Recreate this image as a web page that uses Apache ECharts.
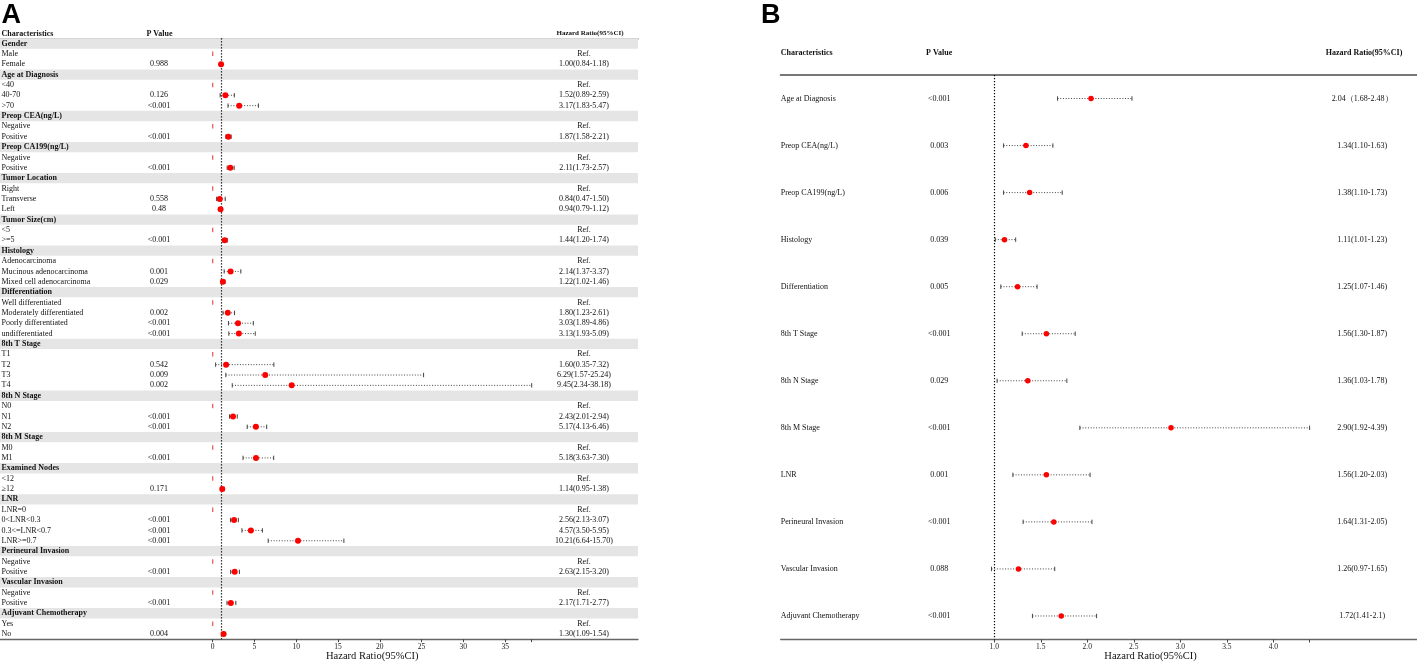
<!DOCTYPE html>
<html><head><meta charset="utf-8">
<script src="https://cdn.jsdelivr.net/npm/echarts@6/dist/echarts.min.js"></script>
<style>html,body{margin:0;padding:0;background:#fff}#c{width:1417px;height:662px}</style>
</head><body><div id="c"></div>
<script>
// ---------- Panel A data (univariate) ----------
const groupNamesA = ['Gender','Age at Diagnosis','Preop CEA(ng/L)','Preop CA199(ng/L)','Tumor Location','Tumor Size(cm)','Histology','Differentiation','8th T Stage','8th N Stage','8th M Stage','Examined Nodes','LNR','Perineural Invasion','Vascular Invasion','Adjuvant Chemotherapy'];
const levelNamesA = [['Male','Female'],['<40','40-70','>70'],['Negative','Positive'],['Negative','Positive'],['Right','Transverse','Left'],['<5','>=5'],['Adenocarcinoma','Mucinous adenocarcinoma','Mixed cell adenocarcinoma'],['Well differentiated','Moderately differentiated','Poorly differentiated','undifferentiated'],['T1','T2','T3','T4'],['N0','N1','N2'],['M0','M1'],['<12','≥12'],['LNR=0','0<LNR<0.3','0.3<=LNR<0.7','LNR>=0.7'],['Negative','Positive'],['Negative','Positive'],['Yes','No']];
const pValuesA = [['','0.988'],['','0.126','<0.001'],['','<0.001'],['','<0.001'],['','0.558','0.48'],['','<0.001'],['','0.001','0.029'],['','0.002','<0.001','<0.001'],['','0.542','0.009','0.002'],['','<0.001','<0.001'],['','<0.001'],['','0.171'],['','<0.001','<0.001','<0.001'],['','<0.001'],['','<0.001'],['','0.004']];
const hrA = [[null,1.00],[null,1.52,3.17],[null,1.87],[null,2.11],[null,0.84,0.94],[null,1.44],[null,2.14,1.22],[null,1.80,3.03,3.13],[null,1.60,6.29,9.45],[null,2.43,5.17],[null,5.18],[null,1.14],[null,2.56,4.57,10.21],[null,2.63],[null,2.17],[null,1.30]];
const ciLowA = [[null,0.84],[null,0.89,1.83],[null,1.58],[null,1.73],[null,0.47,0.79],[null,1.20],[null,1.37,1.02],[null,1.23,1.89,1.93],[null,0.35,1.57,2.34],[null,2.01,4.13],[null,3.63],[null,0.95],[null,2.13,3.50,6.64],[null,2.15],[null,1.71],[null,1.09]];
const ciHighA = [[null,1.18],[null,2.59,5.47],[null,2.21],[null,2.57],[null,1.50,1.12],[null,1.74],[null,3.37,1.46],[null,2.61,4.86,5.09],[null,7.32,25.24,38.18],[null,2.94,6.46],[null,7.30],[null,1.38],[null,3.07,5.95,15.70],[null,3.20],[null,2.77],[null,1.54]];
const tickLabelsA = [0,5,10,15,20,25,30,35];

// ---------- Panel B data (multivariate) ----------
const namesB = ['Age at Diagnosis','Preop CEA(ng/L)','Preop CA199(ng/L)','Histology','Differentiation','8th T Stage','8th N Stage','8th M Stage','LNR','Perineural Invasion','Vascular Invasion','Adjuvant Chemotherapy'];
const pValuesB = ['<0.001','0.003','0.006','0.039','0.005','<0.001','0.029','<0.001','0.001','<0.001','0.088','<0.001'];
const hrB = [2.04,1.34,1.38,1.11,1.25,1.56,1.36,2.90,1.56,1.64,1.26,1.72];
const ciLowB = [1.68,1.10,1.10,1.01,1.07,1.30,1.03,1.92,1.20,1.31,0.97,1.41];
const ciHighB = [2.48,1.63,1.73,1.23,1.46,1.87,1.78,4.39,2.03,2.05,1.65,2.10];
const hrTextB = ['2.04（1.68-2.48）','1.34(1.10-1.63)','1.38(1.10-1.73)','1.11(1.01-1.23)','1.25(1.07-1.46)','1.56(1.30-1.87)','1.36(1.03-1.78)','2.90(1.92-4.39)','1.56(1.20-2.03)','1.64(1.31-2.05)','1.26(0.97-1.65)','1.72(1.41-2.1)'];
const tickLabelsB = [1.0,1.5,2.0,2.5,3.0,3.5,4.0];

// ---------- build rows ----------
const fmt = v => v.toFixed(2);
const rowsA = [];
groupNamesA.forEach((g, gi) => {
  rowsA.push({label: g, header: true});
  levelNamesA[gi].forEach((lv, li) => {
    const hr = hrA[gi][li];
    rowsA.push({label: lv, header: false, p: pValuesA[gi][li], hr: hr, lo: ciLowA[gi][li], hi: ciHighA[gi][li],
      ref: hr === null, hrText: hr === null ? 'Ref.' : fmt(hr) + '(' + fmt(ciLowA[gi][li]) + '-' + fmt(ciHighA[gi][li]) + ')'});
  });
});
const rowsB = namesB.map((n, i) => ({label: n, header: false, p: pValuesB[i], hr: hrB[i], lo: ciLowB[i], hi: ciHighB[i], ref: false, hrText: hrTextB[i]}));

const maxA = Math.max(...rowsA.filter(r => !r.ref && !r.header).map(r => r.hi));
const minB = Math.min(...ciLowB), maxB = Math.max(...ciHighB);

// ---------- layout ----------
const SERIF = '"Liberation Serif","Times New Roman",serif';
const TXT = '#111';
const LA = {tLeft: 0, tWidth: 638, top: 38.3, height: 600.9, fLeft: 212.7, fWidth: 319, cols: {label: 1.5, p: 159, hr: 584}};
const LB = {tLeft: 780.7, tWidth: 636.3, top: 75, height: 564.5, fLeft: 991.5, fWidth: 318.1, cols: {label: 0, p: 158.5, hr: 581.5}};

function tableRender(rows, cols) {
  return function (params, api) {
    const i = api.value(1);
    const r = rows[i];
    const y = api.coord([0, i])[1];
    const ch = [];
    ch.push({type: 'text', x: api.coord([cols.label, i])[0], y: y,
      style: {text: r.label, fill: TXT, font: (r.header ? 'bold ' : '') + '8px ' + SERIF, align: 'left', verticalAlign: 'middle'}});
    if (r.p) ch.push({type: 'text', x: api.coord([cols.p, i])[0], y: y,
      style: {text: r.p, fill: TXT, font: '8px ' + SERIF, align: 'center', verticalAlign: 'middle'}});
    if (r.hrText) ch.push({type: 'text', x: api.coord([cols.hr, i])[0], y: y,
      style: {text: r.hrText, fill: TXT, font: '8px ' + SERIF, align: 'center', verticalAlign: 'middle'}});
    return {type: 'group', children: ch};
  };
}
function ciRender(cap) {
  return function (params, api) {
    const i = api.value(1);
    const a = api.coord([api.value(0), i]);
    const b = api.coord([api.value(2), i]);
    const st = {stroke: '#444', lineWidth: 1, lineDash: [1, 1.7]};
    const cs = {stroke: '#444', lineWidth: 1};
    return {type: 'group', children: [
      {type: 'line', shape: {x1: a[0], y1: a[1], x2: b[0], y2: b[1]}, style: st},
      {type: 'line', shape: {x1: a[0], y1: a[1] - cap, x2: a[0], y2: a[1] + cap}, style: cs},
      {type: 'line', shape: {x1: b[0], y1: b[1] - cap, x2: b[0], y2: b[1] + cap}, style: cs}
    ]};
  };
}

const catsA = rowsA.map((r, i) => 'a' + i);
const catsB = rowsB.map((r, i) => 'b' + i);

function hiddenAxis(grid, pos, max, lineW, lineC) {
  return {type: 'value', gridIndex: grid, position: pos, min: 0, max: max,
    axisLine: {show: lineW > 0, onZero: false, lineStyle: {color: lineC, width: lineW}},
    axisTick: {show: false}, axisLabel: {show: false}, splitLine: {show: false}};
}
function forestAxis(grid, min, max, labels, digits) {
  return {type: 'value', gridIndex: grid, position: 'bottom', min: min, max: max,
    axisLine: {show: false, onZero: false},
    axisTick: {show: true, length: 3, lineStyle: {color: '#444', width: 1}, customValues: labels.concat([max])},
    axisLabel: {show: true, customValues: labels, margin: 4, fontSize: 7.5, fontFamily: SERIF, color: '#222',
      formatter: v => digits ? Number(v).toFixed(digits) : String(v)},
    splitLine: {show: false},
    name: 'Hazard Ratio(95%CI)', nameLocation: 'middle', nameGap: 11.5, nameMoveOverlap: false,
    nameTextStyle: {fontSize: 10.5, fontFamily: SERIF, color: '#111', verticalAlign: 'top'}};
}

const refLine = {silent: true, symbol: ['none', 'none'], label: {show: false},
  lineStyle: {color: '#000', type: [1.2, 1.8], width: 1.2}, data: [{xAxis: 1}]};

function gridBox(left, top, width, height) {
  return {left: left, top: top, width: width, height: height, containLabel: false, outerBoundsMode: 'none'};
}

const option = {
  animation: false,
  backgroundColor: '#fff',
  grid: [
    gridBox(LA.tLeft, LA.top, LA.tWidth, LA.height),
    gridBox(LA.fLeft, LA.top, LA.fWidth, LA.height),
    gridBox(LB.tLeft, LB.top, LB.tWidth, LB.height),
    gridBox(LB.fLeft, LB.top, LB.fWidth, LB.height)
  ],
  xAxis: [
    hiddenAxis(0, 'top', LA.tWidth, 1.5, '#888'),
    hiddenAxis(0, 'bottom', LA.tWidth, 1.3, '#666'),
    forestAxis(1, 0, maxA, tickLabelsA, 0),
    hiddenAxis(2, 'top', LB.tWidth, 2, '#777'),
    hiddenAxis(2, 'bottom', LB.tWidth, 1.3, '#666'),
    forestAxis(3, minB, maxB, tickLabelsB, 1)
  ],
  yAxis: [
    {type: 'category', gridIndex: 0, data: catsA, inverse: true, show: false},
    {type: 'category', gridIndex: 1, data: catsA, inverse: true, show: false},
    {type: 'category', gridIndex: 2, data: catsB, inverse: true, show: false},
    {type: 'category', gridIndex: 3, data: catsB, inverse: true, show: false}
  ],
  graphic: [
    {type: 'text', x: 1.5, y: 16, style: {text: 'A', font: 'bold 27px "Liberation Sans",Arial,sans-serif', fill: '#000', align: 'left', verticalAlign: 'middle'}},
    {type: 'text', x: 761, y: 16, style: {text: 'B', font: 'bold 27px "Liberation Sans",Arial,sans-serif', fill: '#000', align: 'left', verticalAlign: 'middle'}},
    {type: 'text', x: 1.5, y: 33.5, style: {text: 'Characteristics', font: 'bold 8px ' + SERIF, fill: TXT, align: 'left', verticalAlign: 'middle'}},
    {type: 'text', x: 159.5, y: 33.5, style: {text: 'P Value', font: 'bold 8px ' + SERIF, fill: TXT, align: 'center', verticalAlign: 'middle'}},
    {type: 'text', x: 590, y: 33.5, style: {text: 'Hazard Ratio(95%CI)', font: 'bold 7px ' + SERIF, fill: TXT, align: 'center', verticalAlign: 'middle'}},
    {type: 'text', x: 780.7, y: 53, style: {text: 'Characteristics', font: 'bold 8px ' + SERIF, fill: TXT, align: 'left', verticalAlign: 'middle'}},
    {type: 'text', x: 939.2, y: 53, style: {text: 'P Value', font: 'bold 8px ' + SERIF, fill: TXT, align: 'center', verticalAlign: 'middle'}},
    {type: 'text', x: 1364, y: 53, style: {text: 'Hazard Ratio(95%CI)', font: 'bold 8px ' + SERIF, fill: TXT, align: 'center', verticalAlign: 'middle'}}
  ],
  series: [
    {type: 'bar', xAxisIndex: 0, yAxisIndex: 0, silent: true, z: 0, barWidth: '100%',
      itemStyle: {color: '#e5e5e5'}, data: rowsA.map(r => r.header ? LA.tWidth : '-')},
    {type: 'custom', xAxisIndex: 0, yAxisIndex: 0, silent: true, z: 3, encode: {x: 0, y: 1},
      renderItem: tableRender(rowsA, LA.cols), data: rowsA.map((r, i) => [0, i])},
    {type: 'custom', xAxisIndex: 2, yAxisIndex: 1, silent: true, z: 4, encode: {x: [0, 2], y: 1},
      renderItem: ciRender(2.2),
      data: rowsA.map((r, i) => r.hr != null ? [r.lo, i, r.hi] : null).filter(d => d)},
    {type: 'scatter', xAxisIndex: 2, yAxisIndex: 1, silent: true, z: 5, symbol: 'circle', symbolSize: 6,
      itemStyle: {color: '#ff0000', opacity: 1},
      data: rowsA.map((r, i) => r.hr != null ? [r.hr, i] : null).filter(d => d),
      markLine: refLine},
    {type: 'scatter', xAxisIndex: 2, yAxisIndex: 1, silent: true, z: 5, symbol: 'rect', symbolSize: [1.3, 4.5],
      itemStyle: {color: '#e03a3a'},
      data: rowsA.map((r, i) => r.ref ? [0, i] : null).filter(d => d)},
    {type: 'custom', xAxisIndex: 3, yAxisIndex: 2, silent: true, z: 3, encode: {x: 0, y: 1},
      renderItem: tableRender(rowsB, LB.cols), data: rowsB.map((r, i) => [0, i])},
    {type: 'custom', xAxisIndex: 5, yAxisIndex: 3, silent: true, z: 4, encode: {x: [0, 2], y: 1},
      renderItem: ciRender(2.2), data: rowsB.map((r, i) => [r.lo, i, r.hi])},
    {type: 'scatter', xAxisIndex: 5, yAxisIndex: 3, silent: true, z: 5, symbol: 'circle', symbolSize: 5.5,
      itemStyle: {color: '#ff0000', opacity: 1},
      data: rowsB.map((r, i) => [r.hr, i]), markLine: refLine}
  ]
};
const chart = echarts.init(document.getElementById('c'), null, {renderer: 'canvas'});
chart.setOption(option);
</script></body></html>
